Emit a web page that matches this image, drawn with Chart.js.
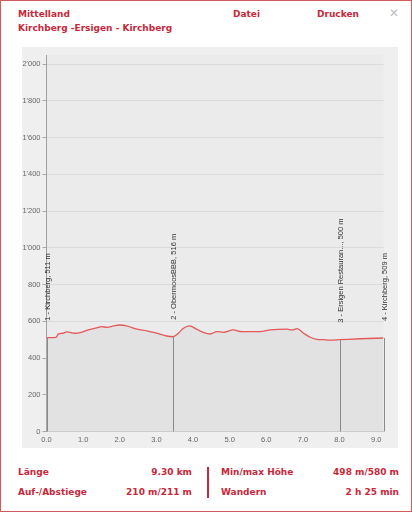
<!DOCTYPE html>
<html><head><meta charset="utf-8">
<script src="https://cdn.jsdelivr.net/npm/chart.js@4"></script>
<style>
html,body{margin:0;padding:0;background:#fff;}
#page{position:relative;width:410px;height:510px;border:1px solid #d05a5a;overflow:hidden;font-family:"DejaVu Sans",Verdana,sans-serif;font-weight:bold;font-size:9px;color:#c8283a;}
.t{position:absolute;white-space:nowrap;line-height:11px;}
#panel{position:absolute;left:21px;top:46px;width:376px;height:401px;background:#efefef;}
#div{position:absolute;left:205.5px;top:465.5px;width:2px;height:31px;background:#c8283a;}
</style></head>
<body><div id="page">
<div class="t" style="left:17px;top:8px">Mittelland</div>
<div class="t" style="left:17px;top:21.5px">Kirchberg -Ersigen - Kirchberg</div>
<div class="t" style="left:232px;top:8px">Datei</div>
<div class="t" style="left:316px;top:8px">Drucken</div>
<div class="t" style="left:388px;top:7px;color:#bdbdbd;font-weight:normal;font-size:12px">✕</div>
<div id="panel"><canvas id="c" width="376" height="401"></canvas></div>
<div class="t" style="left:17px;top:466px">Länge</div>
<div class="t" style="right:219px;top:466px">9.30 km</div>
<div class="t" style="left:17px;top:485.5px">Auf-/Abstiege</div>
<div class="t" style="right:219px;top:485.5px">210 m/211 m</div>
<div id="div"></div>
<div class="t" style="left:220px;top:466px">Min/max Höhe</div>
<div class="t" style="right:12px;top:466px">498 m/580 m</div>
<div class="t" style="left:220px;top:485.5px">Wandern</div>
<div class="t" style="right:12px;top:485.5px">2 h 25 min</div>
</div>
<script>
const distKm = [0, 0.1, 0.26, 0.32, 0.45, 0.55, 0.78, 0.92, 1.14, 1.37, 1.51, 1.65, 1.83, 2.01, 2.19, 2.47, 2.74, 3.01, 3.28, 3.45, 3.60, 3.74, 3.90, 4.01, 4.10, 4.28, 4.47, 4.65, 4.83, 5.10, 5.33, 5.83, 6.11, 6.56, 6.70, 6.84, 7.02, 7.20, 7.38, 7.56, 7.75, 8.0, 8.57, 9.2];
const elevation = [511, 511, 512, 530, 535, 542, 535, 538, 553, 564, 571, 567, 575, 580, 575, 557, 548, 535, 520, 516, 535, 562, 575, 567, 557, 540, 531, 544, 540, 553, 544, 544, 553, 557, 553, 560, 535, 513, 502, 500, 498, 500, 505, 509];
const markerKm = [0, 3.45, 8.0, 9.2];
const markerElev = [511, 516, 500, 509];
const markerLabels = ["1 - Kirchberg, 511 m", "2 - ObermoosBBB, 516 m", "3 - Ersigen Restauran..., 500 m", "4 - Kirchberg, 509 m"];
const yTickValues = [0, 200, 400, 600, 800, 1000, 1200, 1400, 1600, 1800, 2000];
const xTickValues = [0, 1, 2, 3, 4, 5, 6, 7, 8, 9];

function fmtY(v){ if(v>=1000){ return Math.floor(v/1000)+"'"+String(v%1000).padStart(3,'0'); } return String(v); }

const bgPlugin = {
  id:'bg',
  beforeDraw(chart){
    const {ctx, chartArea:a} = chart;
    ctx.save(); ctx.fillStyle='#ebebeb'; ctx.fillRect(a.left,a.top,a.right-a.left,a.bottom-a.top); ctx.restore();
  }
};
const markerPlugin = {
  id:'markers',
  afterDatasetsDraw(chart){
    const {ctx, scales:{x,y}} = chart;
    ctx.save();
    markerKm.forEach((km,i)=>{
      const px = Math.round(x.getPixelForValue(km))+0.5;
      const top = y.getPixelForValue(markerElev[i]);
      const bottom = y.getPixelForValue(0);
      ctx.strokeStyle='#8a8a8a'; ctx.lineWidth=1;
      ctx.beginPath(); ctx.moveTo(px,bottom); ctx.lineTo(px,top); ctx.stroke();
      ctx.translate(px+0.5, top-17);
      ctx.rotate(-Math.PI/2);
      ctx.fillStyle='#333'; ctx.font='7.5px "Liberation Sans", Arial, sans-serif';
      ctx.textAlign='left'; ctx.textBaseline='middle';
      ctx.fillText(markerLabels[i],0,0);
      ctx.setTransform(1,0,0,1,0,0);
    });
    ctx.restore();
  }
};

new Chart(document.getElementById('c'), {
  type:'line',
  data:{ datasets:[{
    data: distKm.map((d,i)=>({x:d,y:elevation[i]})),
    borderColor:'rgba(228,72,72,0.9)', borderWidth:1.3,
    backgroundColor:'#e2e2e2', fill:'origin',
    pointRadius:0, tension:0.3, cubicInterpolationMode:'monotone'
  }]},
  options:{
    responsive:false, devicePixelRatio:1, animation:false,
    layout:{padding:{top:8,right:14.5,left:0,bottom:0}},
    plugins:{legend:{display:false},tooltip:{enabled:false}},
    scales:{
      x:{type:'linear',min:0,max:9.2,
        afterBuildTicks(s){ s.ticks = xTickValues.map(v=>({value:v})); },
        afterFit(s){ s.height=16.5; },
        grid:{display:false, drawTicks:false},
        border:{display:true,color:'#c8c8c8'},
        ticks:{padding:4,color:'#666',font:{family:'"Liberation Sans", Arial',size:7.5},maxRotation:0,
          callback:(v)=>Number(v).toFixed(1)}
      },
      y:{type:'linear',min:0,max:2050,
        afterBuildTicks(s){ s.ticks = yTickValues.map(v=>({value:v})); },
        afterFit(s){ s.width=24.5; },
        grid:{color:'#dadada',tickLength:4,tickColor:'#aaa'},
        border:{display:true,color:'#a0a0a0'},
        ticks:{padding:2,color:'#666',font:{family:'"Liberation Sans", Arial',size:7.5},callback:(v)=>fmtY(v)}
      }
    }
  },
  plugins:[bgPlugin, markerPlugin]
});
</script>
</body></html>
